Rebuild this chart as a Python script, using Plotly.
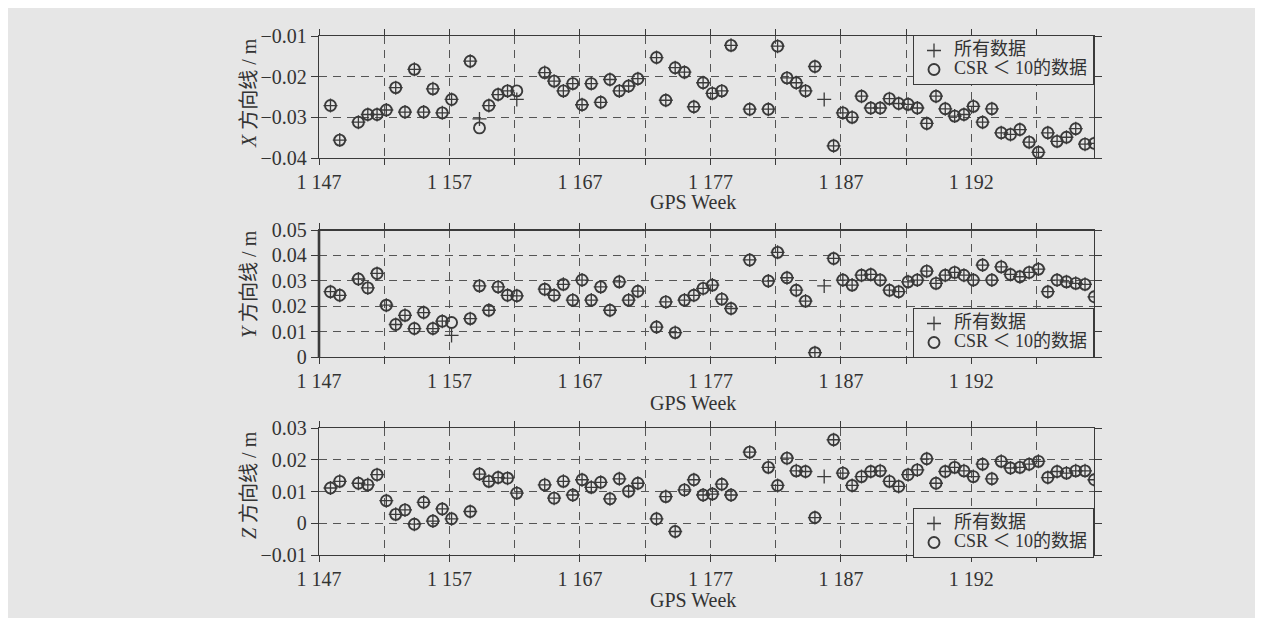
import plotly.graph_objects as go

# GPS week of each solution (5-day arcs)
weeks = [1147.88, 1148.59, 1150.02, 1150.74, 1151.45, 1152.16, 1152.88, 1153.59, 1154.31, 1155.02,
         1155.73, 1156.45, 1157.16, 1158.59, 1159.30, 1160.02, 1160.73, 1161.45, 1162.16, 1164.30,
         1165.02, 1165.73, 1166.45, 1167.16, 1167.87, 1168.59, 1169.30, 1170.02, 1170.73, 1171.44,
         1172.87, 1173.58, 1174.30, 1175.01, 1175.73, 1176.44, 1177.15, 1177.87, 1178.58, 1180.01,
         1181.44, 1182.15, 1182.87, 1183.58, 1184.29, 1185.01, 1185.72, 1186.44, 1187.15, 1187.86,
         1188.58, 1189.29, 1190.01, 1190.72, 1191.43, 1192.15, 1192.86, 1193.58, 1194.29, 1195.00,
         1195.72, 1196.43, 1197.15, 1197.86, 1198.57, 1199.29, 1200.00, 1200.72, 1201.43, 1202.14,
         1202.86, 1203.57, 1204.29, 1205.00, 1205.71, 1206.43]

# X direction baseline (m)
x_all = [-0.0271, -0.0356, -0.0312, -0.0293, -0.0293, -0.0282, -0.0227, -0.0287, -0.0182, -0.0287,
         -0.0230, -0.0289, -0.0256, -0.0162, -0.0304, -0.0271, -0.0244, -0.0235, -0.0256, -0.0190,
         -0.0211, -0.0235, -0.0217, -0.0269, -0.0217, -0.0263, -0.0207, -0.0235, -0.0223, -0.0205,
         -0.0153, -0.0258, -0.0178, -0.0189, -0.0274, -0.0215, -0.0241, -0.0235, -0.0123, -0.0280,
         -0.0280, -0.0125, -0.0203, -0.0215, -0.0235, -0.0175, -0.0256, -0.0370, -0.0289, -0.0300,
         -0.0248, -0.0277, -0.0277, -0.0254, -0.0266, -0.0268, -0.0277, -0.0315, -0.0248, -0.0279,
         -0.0297, -0.0293, -0.0273, -0.0312, -0.0279, -0.0338, -0.0342, -0.0330, -0.0361, -0.0386,
         -0.0338, -0.0359, -0.0349, -0.0328, -0.0366, -0.0364]
x_csr = [-0.0271, -0.0356, -0.0312, -0.0293, -0.0293, -0.0282, -0.0227, -0.0287, -0.0182, -0.0287,
         -0.0230, -0.0289, -0.0256, -0.0162, -0.0326, -0.0271, -0.0244, -0.0235, -0.0235, -0.0190,
         -0.0211, -0.0235, -0.0217, -0.0269, -0.0217, -0.0263, -0.0207, -0.0235, -0.0223, -0.0205,
         -0.0153, -0.0258, -0.0178, -0.0189, -0.0274, -0.0215, -0.0241, -0.0235, -0.0123, -0.0280,
         -0.0280, -0.0125, -0.0203, -0.0215, -0.0235, -0.0175, None, -0.0370, -0.0289, -0.0300,
         -0.0248, -0.0277, -0.0277, -0.0254, -0.0266, -0.0268, -0.0277, -0.0315, -0.0248, -0.0279,
         -0.0297, -0.0293, -0.0273, -0.0312, -0.0279, -0.0338, -0.0342, -0.0330, -0.0361, -0.0386,
         -0.0338, -0.0359, -0.0349, -0.0328, -0.0366, -0.0364]

# Y direction baseline (m)
y_all = [0.0257, 0.0243, 0.0307, 0.0272, 0.0329, 0.0204, 0.0128, 0.0164, 0.0112, 0.0175,
         0.0112, 0.0141, 0.0085, 0.0151, 0.0280, 0.0184, 0.0276, 0.0243, 0.0241, 0.0267,
         0.0243, 0.0286, 0.0224, 0.0303, 0.0224, 0.0276, 0.0184, 0.0296, 0.0224, 0.0259,
         0.0118, 0.0217, 0.0096, 0.0224, 0.0243, 0.0270, 0.0283, 0.0228, 0.0191, 0.0382,
         0.0299, 0.0412, 0.0312, 0.0263, 0.0220, 0.0017, 0.0280, 0.0388, 0.0303, 0.0283,
         0.0322, 0.0325, 0.0303, 0.0263, 0.0257, 0.0296, 0.0303, 0.0338, 0.0290, 0.0322,
         0.0333, 0.0322, 0.0303, 0.0362, 0.0303, 0.0355, 0.0325, 0.0316, 0.0333, 0.0346,
         0.0257, 0.0303, 0.0296, 0.0290, 0.0286, 0.0237]
y_csr = [0.0257, 0.0243, 0.0307, 0.0272, 0.0329, 0.0204, 0.0128, 0.0164, 0.0112, 0.0175,
         0.0112, 0.0141, 0.0136, 0.0151, 0.0280, 0.0184, 0.0276, 0.0243, 0.0241, 0.0267,
         0.0243, 0.0286, 0.0224, 0.0303, 0.0224, 0.0276, 0.0184, 0.0296, 0.0224, 0.0259,
         0.0118, 0.0217, 0.0096, 0.0224, 0.0243, 0.0270, 0.0283, 0.0228, 0.0191, 0.0382,
         0.0299, 0.0412, 0.0312, 0.0263, 0.0220, 0.0017, None, 0.0388, 0.0303, 0.0283,
         0.0322, 0.0325, 0.0303, 0.0263, 0.0257, 0.0296, 0.0303, 0.0338, 0.0290, 0.0322,
         0.0333, 0.0322, 0.0303, 0.0362, 0.0303, 0.0355, 0.0325, 0.0316, 0.0333, 0.0346,
         0.0257, 0.0303, 0.0296, 0.0290, 0.0286, 0.0237]

# Z direction baseline (m)
z_all = [0.0111, 0.0132, 0.0126, 0.0121, 0.0153, 0.0071, 0.0028, 0.0042, -0.0003, 0.0066,
         0.0007, 0.0045, 0.0014, 0.0037, 0.0155, 0.0132, 0.0144, 0.0142, 0.0095, 0.0121,
         0.0079, 0.0132, 0.0089, 0.0137, 0.0113, 0.0129, 0.0077, 0.0140, 0.0101, 0.0126,
         0.0014, 0.0084, -0.0026, 0.0105, 0.0137, 0.0089, 0.0092, 0.0123, 0.0089, 0.0224,
         0.0176, 0.0119, 0.0205, 0.0165, 0.0163, 0.0018, 0.0147, 0.0263, 0.0158, 0.0119,
         0.0147, 0.0163, 0.0165, 0.0132, 0.0116, 0.0153, 0.0168, 0.0203, 0.0126, 0.0163,
         0.0176, 0.0165, 0.0147, 0.0186, 0.0140, 0.0195, 0.0174, 0.0176, 0.0186, 0.0195,
         0.0144, 0.0163, 0.0158, 0.0165, 0.0165, 0.0137]
z_csr = [0.0111, 0.0132, 0.0126, 0.0121, 0.0153, 0.0071, 0.0028, 0.0042, -0.0003, 0.0066,
         0.0007, 0.0045, 0.0014, 0.0037, 0.0155, 0.0132, 0.0144, 0.0142, 0.0095, 0.0121,
         0.0079, 0.0132, 0.0089, 0.0137, 0.0113, 0.0129, 0.0077, 0.0140, 0.0101, 0.0126,
         0.0014, 0.0084, -0.0026, 0.0105, 0.0137, 0.0089, 0.0092, 0.0123, 0.0089, 0.0224,
         0.0176, 0.0119, 0.0205, 0.0165, 0.0163, 0.0018, None, 0.0263, 0.0158, 0.0119,
         0.0147, 0.0163, 0.0165, 0.0132, 0.0116, 0.0153, 0.0168, 0.0203, 0.0126, 0.0163,
         0.0176, 0.0165, 0.0147, 0.0186, 0.0140, 0.0195, 0.0174, 0.0176, 0.0186, 0.0195,
         0.0144, 0.0163, 0.0158, 0.0165, 0.0165, 0.0137]

x_tickvals = [1147, 1152, 1157, 1162, 1167, 1172, 1177, 1182, 1187, 1192, 1197, 1202]
x_ticktext = ["1 147", "", "1 157", "", "1 167", "", "1 177", "", "1 187", "", "1 192", ""]

yX_ticks = [-0.04, -0.03, -0.02, -0.01]
yX_text = ["\u22120.04", "\u22120.03", "\u22120.02", "\u22120.01"]
yY_ticks = [0, 0.01, 0.02, 0.03, 0.04, 0.05]
yY_text = ["0", "0.01", "0.02", "0.03", "0.04", "0.05"]
yZ_ticks = [-0.01, 0, 0.01, 0.02, 0.03]
yZ_text = ["\u22120.01", "0", "0.01", "0.02", "0.03"]

panel_titles = ["<i>X</i> 方向线 / m", "<i>Y</i> 方向线 / m", "<i>Z</i> 方向线 / m"]
name_all = "所有数据"
name_csr = "CSR ＜ 10的数据"

W, H = 1263, 618
OFF = 8  # page body margin in the browser
FONT = "Liberation Serif, Noto Sans CJK SC, serif"
INK = "#3a3a3a"
BG = "#e6e6e6"


def px_x(p):
    return (p - OFF) / W


def px_y(p):
    return 1 - (p - OFF) / H


x0, x1 = px_x(319), px_x(1094)
panels = [(36, 158), (230, 357), (428, 555)]


def big(t):
    return '<span style="font-size:18px">' + t + '</span>'


fig = go.Figure()
series = [(x_all, x_csr), (y_all, y_csr), (z_all, z_csr)]
legends = ["legend", "legend2", "legend3"]
for i, (s_all, s_csr) in enumerate(series):
    ax = "" if i == 0 else str(i + 1)
    fig.add_trace(go.Scatter(
        x=weeks, y=s_csr, mode="markers", name=big(name_csr),
        xaxis="x" + ax, yaxis="y" + ax, legend=legends[i], legendrank=2,
        marker=dict(symbol="circle-open", size=11, color=INK, line=dict(width=1.9, color=INK)),
    ))
    fig.add_trace(go.Scatter(
        x=weeks, y=s_all, mode="markers", name=big(name_all),
        xaxis="x" + ax, yaxis="y" + ax, legend=legends[i], legendrank=1,
        marker=dict(symbol="cross-thin-open", size=10, color=INK, line=dict(width=1.3, color=INK)),
    ))

yt = [(yX_ticks, yX_text, [-0.04, -0.01]), (yY_ticks, yY_text, [0, 0.05]), (yZ_ticks, yZ_text, [-0.01, 0.03])]
layout = dict(
    width=W, height=H, autosize=False, margin=dict(l=0, r=0, t=0, b=0, pad=0),
    paper_bgcolor=BG, plot_bgcolor=BG,
    font=dict(family=FONT, size=20, color="#333"),
    showlegend=True,
)
for i, (top, bot) in enumerate(panels):
    ax = "" if i == 0 else str(i + 1)
    layout["xaxis" + ax] = dict(
        domain=[x0, x1], range=[1147, 1206.4], anchor="y" + ax, automargin=False,
        tickvals=x_tickvals, ticktext=x_ticktext,
        showgrid=True, gridcolor="#555", gridwidth=1, griddash="8px,6px",
        showline=True, linecolor=INK, linewidth=1.3, mirror="ticks",
        ticks="outside", ticklen=6, tickcolor=INK, tickwidth=1.3,
        zeroline=False, tickfont=dict(size=20, family=FONT),
    )
    tv, tt, rg = yt[i]
    layout["yaxis" + ax] = dict(
        domain=[px_y(bot), px_y(top)], range=rg, anchor="x" + ax, automargin=False,
        tickvals=tv, ticktext=tt,
        showgrid=True, gridcolor="#555", gridwidth=1, griddash="8px,6px",
        showline=True, linecolor=INK, linewidth=1.3, mirror="ticks",
        ticks="outside", ticklen=7, tickcolor=INK, tickwidth=1.3,
        zeroline=False, tickfont=dict(size=20, family=FONT),
    )

leg_common = dict(
    bgcolor=BG, bordercolor=INK, borderwidth=1,
    font=dict(size=12, family=FONT, color="#333"),
    xanchor="right", x=px_x(1094), tracegroupgap=0, itemwidth=30,
)
layout["legend"] = dict(leg_common, yanchor="top", y=px_y(35))
layout["legend2"] = dict(leg_common, yanchor="bottom", y=px_y(358))
layout["legend3"] = dict(leg_common, yanchor="bottom", y=px_y(558))

# bold left/top frame of the Y panel, as in the printed figure
layout["shapes"] = [
    dict(type="line", xref="paper", yref="paper", x0=x0, x1=x0,
         y0=px_y(panels[1][1]), y1=px_y(panels[1][0]), line=dict(color=INK, width=2.6)),
    dict(type="line", xref="paper", yref="paper", x0=x0, x1=x1,
         y0=px_y(panels[1][0]), y1=px_y(panels[1][0]), line=dict(color=INK, width=2.2)),
]

annotations = []
title_centers = [93, 284, 485]
week_label_y = [202, 403, 600]
for i in range(3):
    annotations.append(dict(
        text=panel_titles[i], textangle=-90, xref="paper", yref="paper",
        x=px_x(249), y=px_y(title_centers[i]), showarrow=False,
        xanchor="center", yanchor="middle", font=dict(size=20, family=FONT, color="#333"),
    ))
    annotations.append(dict(
        text="GPS Week", xref="paper", yref="paper",
        x=px_x(693), y=px_y(week_label_y[i]), showarrow=False,
        xanchor="center", yanchor="middle", font=dict(size=20, family=FONT, color="#333"),
    ))
layout["annotations"] = annotations

fig.update_layout(**layout)
fig.write_html("out.html", config={"responsive": False})
